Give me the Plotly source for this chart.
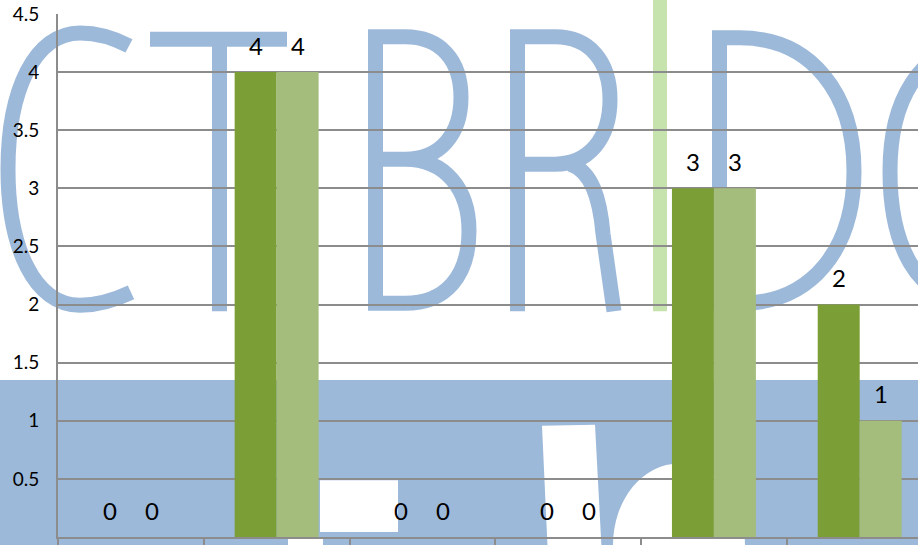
import plotly.graph_objects as go

# ---- data ----
categories = ["1", "2", "3", "4", "5", "6"]
series_a = [0, 4, 0, 0, 3, 2]
series_b = [0, 4, 0, 0, 3, 1]
series_names = ["Series 1", "Series 2"]
y_ticks = [0, 0.5, 1, 1.5, 2, 2.5, 3, 3.5, 4, 4.5]

W, H = 918, 545
L, R, T, B = 58, 918, 14, 540

def px(x, y):
    return (x - L) / (R - L), (B - y) / (B - T)

def path(cmds):
    out = []
    for c in cmds:
        op, pts = c[0], c[1:]
        coords = []
        for i in range(0, len(pts), 2):
            xx, yy = px(pts[i], pts[i + 1])
            coords.append(f"{xx:.5f},{yy:.5f}")
        out.append(op + " " + " ".join(coords) if coords else op)
    return " ".join(out)

def rect(x0, y0, x1, y1, color):
    a, b = px(x0, y0)
    c, d = px(x1, y1)
    return dict(type="rect", xref="paper", yref="paper", x0=a, y0=d, x1=c, y1=b,
                fillcolor=color, line=dict(width=0), layer="below")

BLUE = "#9db9da"
letter_style = dict(type="path", xref="paper", yref="paper", layer="below",
                    line=dict(color=BLUE, width=15), fillcolor="rgba(0,0,0,0)")

letters = [
    # C
    [("M", 129, 46), ("C", 112, 37, 97, 33, 80, 33), ("C", 35, 33, 8, 90, 8, 170),
     ("C", 8, 250, 35, 307, 80, 307), ("C", 97, 307, 114, 302, 131, 294)],
    # T
    [("M", 150, 39.5), ("L", 287, 39.5), ("M", 219.5, 39.5), ("L", 219.5, 313)],
    # B
    [("M", 405, 305), ("L", 375.5, 305), ("L", 375.5, 37), ("L", 405, 37),
     ("C", 440, 37, 461, 60, 461, 98), ("C", 461, 135, 440, 160, 405, 160), ("L", 375.5, 160),
     ("M", 405, 160), ("C", 445, 160, 469, 190, 469, 232), ("C", 469, 278, 445, 305, 405, 305)],
    # R
    [("M", 517.5, 313), ("L", 517.5, 37), ("L", 555, 37),
     ("C", 590, 37, 610, 62, 610, 100), ("C", 610, 140, 588, 165, 555, 165), ("L", 517.5, 165),
     ("M", 570, 165), ("C", 592, 172, 600, 200, 603, 235), ("L", 614, 313)],
    # D
    [("M", 740, 305), ("L", 719.5, 305), ("L", 719.5, 38), ("L", 740, 38),
     ("C", 812, 38, 854, 95, 854, 172), ("C", 854, 250, 812, 305, 740, 305)],
    # G (cut)
    [("M", 975, 45), ("C", 920, 50, 890, 100, 890, 172), ("C", 890, 245, 915, 300, 975, 305)],
]

shapes = []
for lt in letters:
    shapes.append(dict(letter_style, path=path(lt)))
shapes.append(rect(653, -5, 667, 313, "#c6e2ad"))
shapes.append(rect(0, 382, 918, 560, "#9cb9d9"))
shapes.append(rect(320, 483, 398, 535, "white"))
shapes.append(rect(288, 540, 323, 560, "white"))
shapes.append(dict(type="path", xref="paper", yref="paper", layer="below",
                   path=path([("M", 542, 428), ("L", 595, 427), ("L", 602, 560), ("L", 548, 560), ("Z",)]),
                   fillcolor="white", line=dict(width=0)))
e0 = px(613, 466); e1 = px(745, 630)
shapes.append(dict(type="circle", xref="paper", yref="paper", layer="below",
                   x0=e0[0], y0=e1[1], x1=e1[0], y1=e0[1], fillcolor="white", line=dict(width=0)))

fig = go.Figure()
colors = ["#7c9e37", "#a4bc7c"]
for name, vals, col in zip(series_names, [series_a, series_b], colors):
    fig.add_trace(go.Bar(x=categories, y=vals, name=name, marker=dict(color=col, line=dict(width=0))))

annotations = []
half = 0.144
for k, vals in enumerate([series_a, series_b]):
    off = -half if k == 0 else half
    for i, v in enumerate(vals):
        annotations.append(dict(x=i + off, y=v, xref="x", yref="y", text=str(v), showarrow=False,
                                yanchor="middle", yshift=27,
                                font=dict(family="Lato", size=24, color="black")))

fig.update_layout(
    width=W, height=H,
    margin=dict(l=L, r=W - R, t=T, b=H - B, pad=0),
    paper_bgcolor="white", plot_bgcolor="rgba(0,0,0,0)",
    showlegend=False, barmode="group", bargap=0.424, bargroupgap=0,
    shapes=shapes, annotations=annotations,
    font=dict(family="Lato", color="black"),
)
fig.update_xaxes(range=[-0.5, 5.4], showticklabels=False, showgrid=False,
                 showline=True, linecolor="#8c8c8c", linewidth=2,
                 ticks="outside", tickson="boundaries", ticklen=8, tickcolor="#8c8c8c", tickwidth=2)
fig.update_yaxes(range=[0, 4.5], tickvals=y_ticks, ticktext=[f"{t:g}" for t in y_ticks],
                 showgrid=True, gridcolor="#8c8c8c", gridwidth=2, zeroline=False,
                 showline=True, linecolor="#8c8c8c", linewidth=2, ticks="",
                 ticklabelstandoff=13, tickfont=dict(family="Lato", size=19, color="black"))

fig.write_html("out.html", config={"displayModeBar": False},
               post_script="document.body.style.margin='0';document.body.style.overflow='hidden';")
